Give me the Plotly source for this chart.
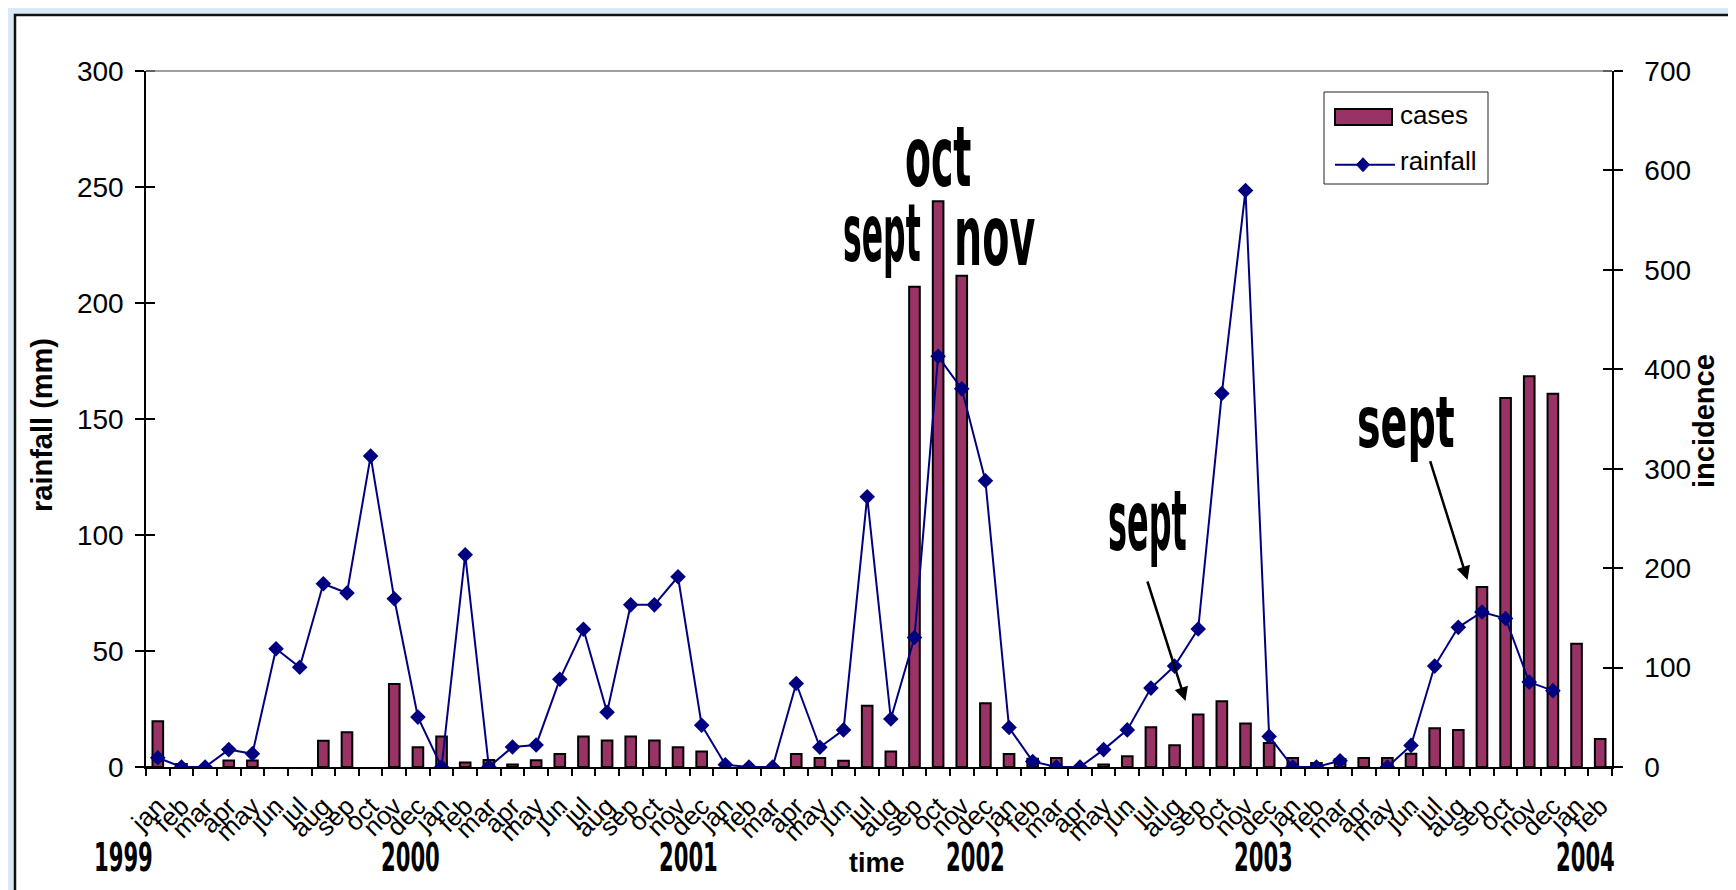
import json
import plotly.graph_objects as go

# ---------------- data ----------------
months = (["jan", "feb", "mar", "apr", "may", "jun", "jul", "aug", "sep", "oct", "nov", "dec"] * 5
          + ["jan", "feb"])
years = ["1999", "2000", "2001", "2002", "2003", "2004"]

# incidence (right axis); None = no bar drawn
cases = [46, 3, None, 6.5, 6.5, None, None, 26.5, 35, None, 83.5, 19.8,
         30.7, 4.5, 7, 2.4, 6.7, 13, 30.6, 26.6, 30.6, 26.6, 19.8, 15.6,
         None, None, None, 13.1, 9.1, 6.4, 61.5, 15.5, 483, 569, 494, 64,
         13.1, 8.4, 9.1, None, 2.4, 10.8, 40, 21.9, 52.8, 66.2, 43.7, 24.2,
         9, 4, 8, 9, 9, 13.3, 38.9, 37.2, 181, 371, 393, 375.5,
         124, 28.2]

# rainfall in mm (left axis)
rainfall = [4, 0, 0, 7.5, 5.7, 51, 43, 79, 75, 134, 72.5, 21.5,
            0, 91.5, 0, 8.6, 9.5, 37.8, 59.4, 23.6, 69.9, 69.9, 82, 18,
            1, 0, 0, 36, 8.5, 16, 116.5, 20.7, 55.8, 177, 163, 123.4,
            17, 2.4, 0, 0, 7.5, 16, 34, 43.5, 59.5, 161, 248.5, 13.2,
            0, 0, 2.7, None, 0, 9.3, 43.5, 60.2, 66.8, 64, 36.6, 32.9,
            None, None]

rain_ticks = [0, 50, 100, 150, 200, 250, 300]
inc_ticks = [0, 100, 200, 300, 400, 500, 600, 700]

x = list(range(len(months)))

# ---------------- geometry helpers ----------------
FIG_W, FIG_H = 1736, 890
L, R, T, B = 138, 1604, 63, 759
PW, PH = R - L, B - T


def PX(X):
    return (X - L) / PW


def PY(Y):
    return (B - Y) / PH


F = "Liberation Sans, Arial, sans-serif"
FN = "DejaVu Sans Condensed, Liberation Sans Narrow, Arial Narrow, sans-serif"
BAR_COLOR = "#993366"
LINE_COLOR = "#000080"

fig = go.Figure()
fig.add_trace(go.Bar(
    x=x, y=cases, name="cases", yaxis="y", width=0.45,
    marker=dict(color=BAR_COLOR, line=dict(color="black", width=2)),
    showlegend=False,
))
fig.add_trace(go.Scatter(
    x=x, y=rainfall, name="rainfall", yaxis="y2", mode="lines+markers",
    line=dict(color=LINE_COLOR, width=2),
    marker=dict(symbol="diamond", size=12, color=LINE_COLOR),
    connectgaps=False, showlegend=False,
))

shapes = []
# white slide frame
shapes.append(dict(type="rect", xref="paper", yref="paper", layer="below",
                   x0=PX(7), x1=PX(1730), y0=PY(900), y1=PY(7),
                   fillcolor="white", line=dict(color="#111111", width=2.5)))
# grey top border of plot area
shapes.append(dict(type="line", xref="paper", yref="paper", layer="above",
                   x0=0, x1=1, y0=1, y1=1, line=dict(color="#808080", width=1.5)))
# legend box
shapes.append(dict(type="rect", xref="paper", yref="paper", layer="above",
                   x0=PX(1316), x1=PX(1480), y0=PY(176), y1=PY(84),
                   fillcolor="white", line=dict(color="#222222", width=1)))
shapes.append(dict(type="rect", xref="paper", yref="paper", layer="above",
                   x0=PX(1327), x1=PX(1384), y0=PY(117), y1=PY(101),
                   fillcolor=BAR_COLOR, line=dict(color="black", width=2)))
shapes.append(dict(type="line", xref="paper", yref="paper", layer="above",
                   x0=PX(1327), x1=PX(1387), y0=PY(156.7), y1=PY(156.7),
                   line=dict(color=LINE_COLOR, width=2)))
cx, cy, hw, hh = 1355, 156.7, 6.5, 7
shapes.append(dict(type="path", xref="paper", yref="paper", layer="above",
                   path=(f"M{PX(cx)},{PY(cy - hh)} L{PX(cx + hw)},{PY(cy)} "
                         f"L{PX(cx)},{PY(cy + hh)} L{PX(cx - hw)},{PY(cy)} Z"),
                   fillcolor=LINE_COLOR, line=dict(color=LINE_COLOR, width=1)))

annotations = []
stretch = {}


def add_text(text, X, Y, size, family=F, sy=None, xanchor="center", angle=0, bold=True):
    t = f"<b>{text}</b>" if bold else text
    annotations.append(dict(text=t, x=PX(X), y=PY(Y), xref="paper", yref="paper",
                            showarrow=False, xanchor=xanchor, yanchor="middle",
                            textangle=angle, borderpad=0,
                            font=dict(family=family, size=size, color="black")))
    if sy:
        stretch[len(annotations) - 1] = sy


# big month annotations
add_text("oct", 930, 148, 42, FN, 2.0)
add_text("sept", 874, 225, 35, FN, 2.3)
add_text("nov", 986, 227.5, 44, FN, 1.9)
add_text("sept", 1139, 513, 35.5, FN, 2.35)
add_text("sept", 1397.5, 414, 44, FN, 1.6)

# year labels
YEAR_X = [115.5, 402, 680.5, 967.5, 1255.6, 1577]
for yr, X in zip(years, YEAR_X):
    add_text(yr, X, 850, 23.5, FN, 1.68)

# axis titles
add_text("time", 869, 855, 27, F)
add_text("rainfall (mm)", 34, 417, 29, F, angle=-90)
add_text("incidence", 1696, 413, 29, F, angle=-90)

# legend texts
add_text("cases", 1391, 107.5, 26, F, xanchor="left", bold=False)
add_text("rainfall", 1391, 152.5, 26, F, xanchor="left", bold=False)

# arrows
for (tx, ty), (hx, hy) in [((1139, 572), (1177.5, 693)), ((1421.7, 451.7), (1459.5, 572))]:
    annotations.append(dict(text="", x=PX(hx), y=PY(hy), xref="paper", yref="paper",
                            ax=tx - hx, ay=ty - hy, showarrow=True,
                            arrowhead=2, arrowsize=1.1, arrowwidth=2.5,
                            arrowcolor="black", standoff=0))

boundaries = [i - 0.5 for i in range(len(months) + 1)]
EPS = 1e-3

fig.update_layout(
    width=FIG_W, height=FIG_H,
    template="none",
    paper_bgcolor="#d9eaf6",
    plot_bgcolor="#c0c0c0",
    margin=dict(l=L, r=FIG_W - R, t=T, b=FIG_H - B, pad=0),
    showlegend=False,
    bargap=0.5,
    font=dict(family=F, color="black"),
    xaxis=dict(
        range=[-0.5, len(months) - 0.5], tickmode="array", tickvals=x, ticktext=months,
        tickangle=-45, tickfont=dict(size=26, family=F, color="black"),
        ticks="", showline=True, linecolor="black", linewidth=1.5,
        showgrid=False, zeroline=False, ticklabelstandoff=12,
        minor=dict(tickmode="array", tickvals=boundaries,
                   ticks="outside", ticklen=7, tickwidth=1.5, tickcolor="black", showgrid=False),
    ),
    # companion axis that only draws the inner half of the crossing tick marks
    xaxis2=dict(
        range=[-0.5, len(months) - 0.5], overlaying="x", anchor="y", side="bottom",
        tickmode="array", tickvals=boundaries, showticklabels=False,
        ticks="inside", ticklen=7, tickwidth=1.5, tickcolor="black",
        showline=False, showgrid=False, zeroline=False,
    ),
    yaxis=dict(
        range=[0, 700], side="right", anchor="x", tickmode="array", tickvals=inc_ticks,
        ticks="outside", ticklen=9, tickwidth=1.5, tickcolor="black",
        tickfont=dict(size=28, family=F, color="black"),
        showline=True, linecolor="black", linewidth=1.5,
        showgrid=False, zeroline=False, ticklabelstandoff=16,
        minor=dict(tickmode="array", tickvals=[v + EPS for v in inc_ticks],
                   ticks="inside", ticklen=9, tickwidth=1.5, tickcolor="black", showgrid=False),
    ),
    yaxis2=dict(
        range=[0, 300], side="left", overlaying="y", anchor="x", tickmode="array", tickvals=rain_ticks,
        ticks="outside", ticklen=9, tickwidth=1.5, tickcolor="black",
        tickfont=dict(size=28, family=F, color="black"),
        showline=True, linecolor="black", linewidth=1.5,
        showgrid=False, zeroline=False, ticklabelstandoff=6,
        minor=dict(tickmode="array", tickvals=[v + EPS for v in rain_ticks],
                   ticks="inside", ticklen=9, tickwidth=1.5, tickcolor="black", showgrid=False),
    ),
    shapes=shapes,
    annotations=annotations,
)

post = """
var gd = document.getElementById('{plot_id}');
var SY = %s;
function stretchTexts(){
  var anns = gd.querySelectorAll('g.annotation');
  anns.forEach(function(g){
    var idx = g.getAttribute('data-index');
    var s = SY[idx];
    if(!s) return;
    var t = g.querySelector('text.annotation-text');
    if(!t) return;
    t.style.transformBox = 'fill-box';
    t.style.transformOrigin = 'center';
    t.style.transform = 'scaleY(' + s + ')';
  });
}
stretchTexts();
if (gd.on) { gd.on('plotly_afterplot', stretchTexts); }
""" % json.dumps({str(k): v for k, v in stretch.items()})

fig.write_html("out.html", post_script=post)
